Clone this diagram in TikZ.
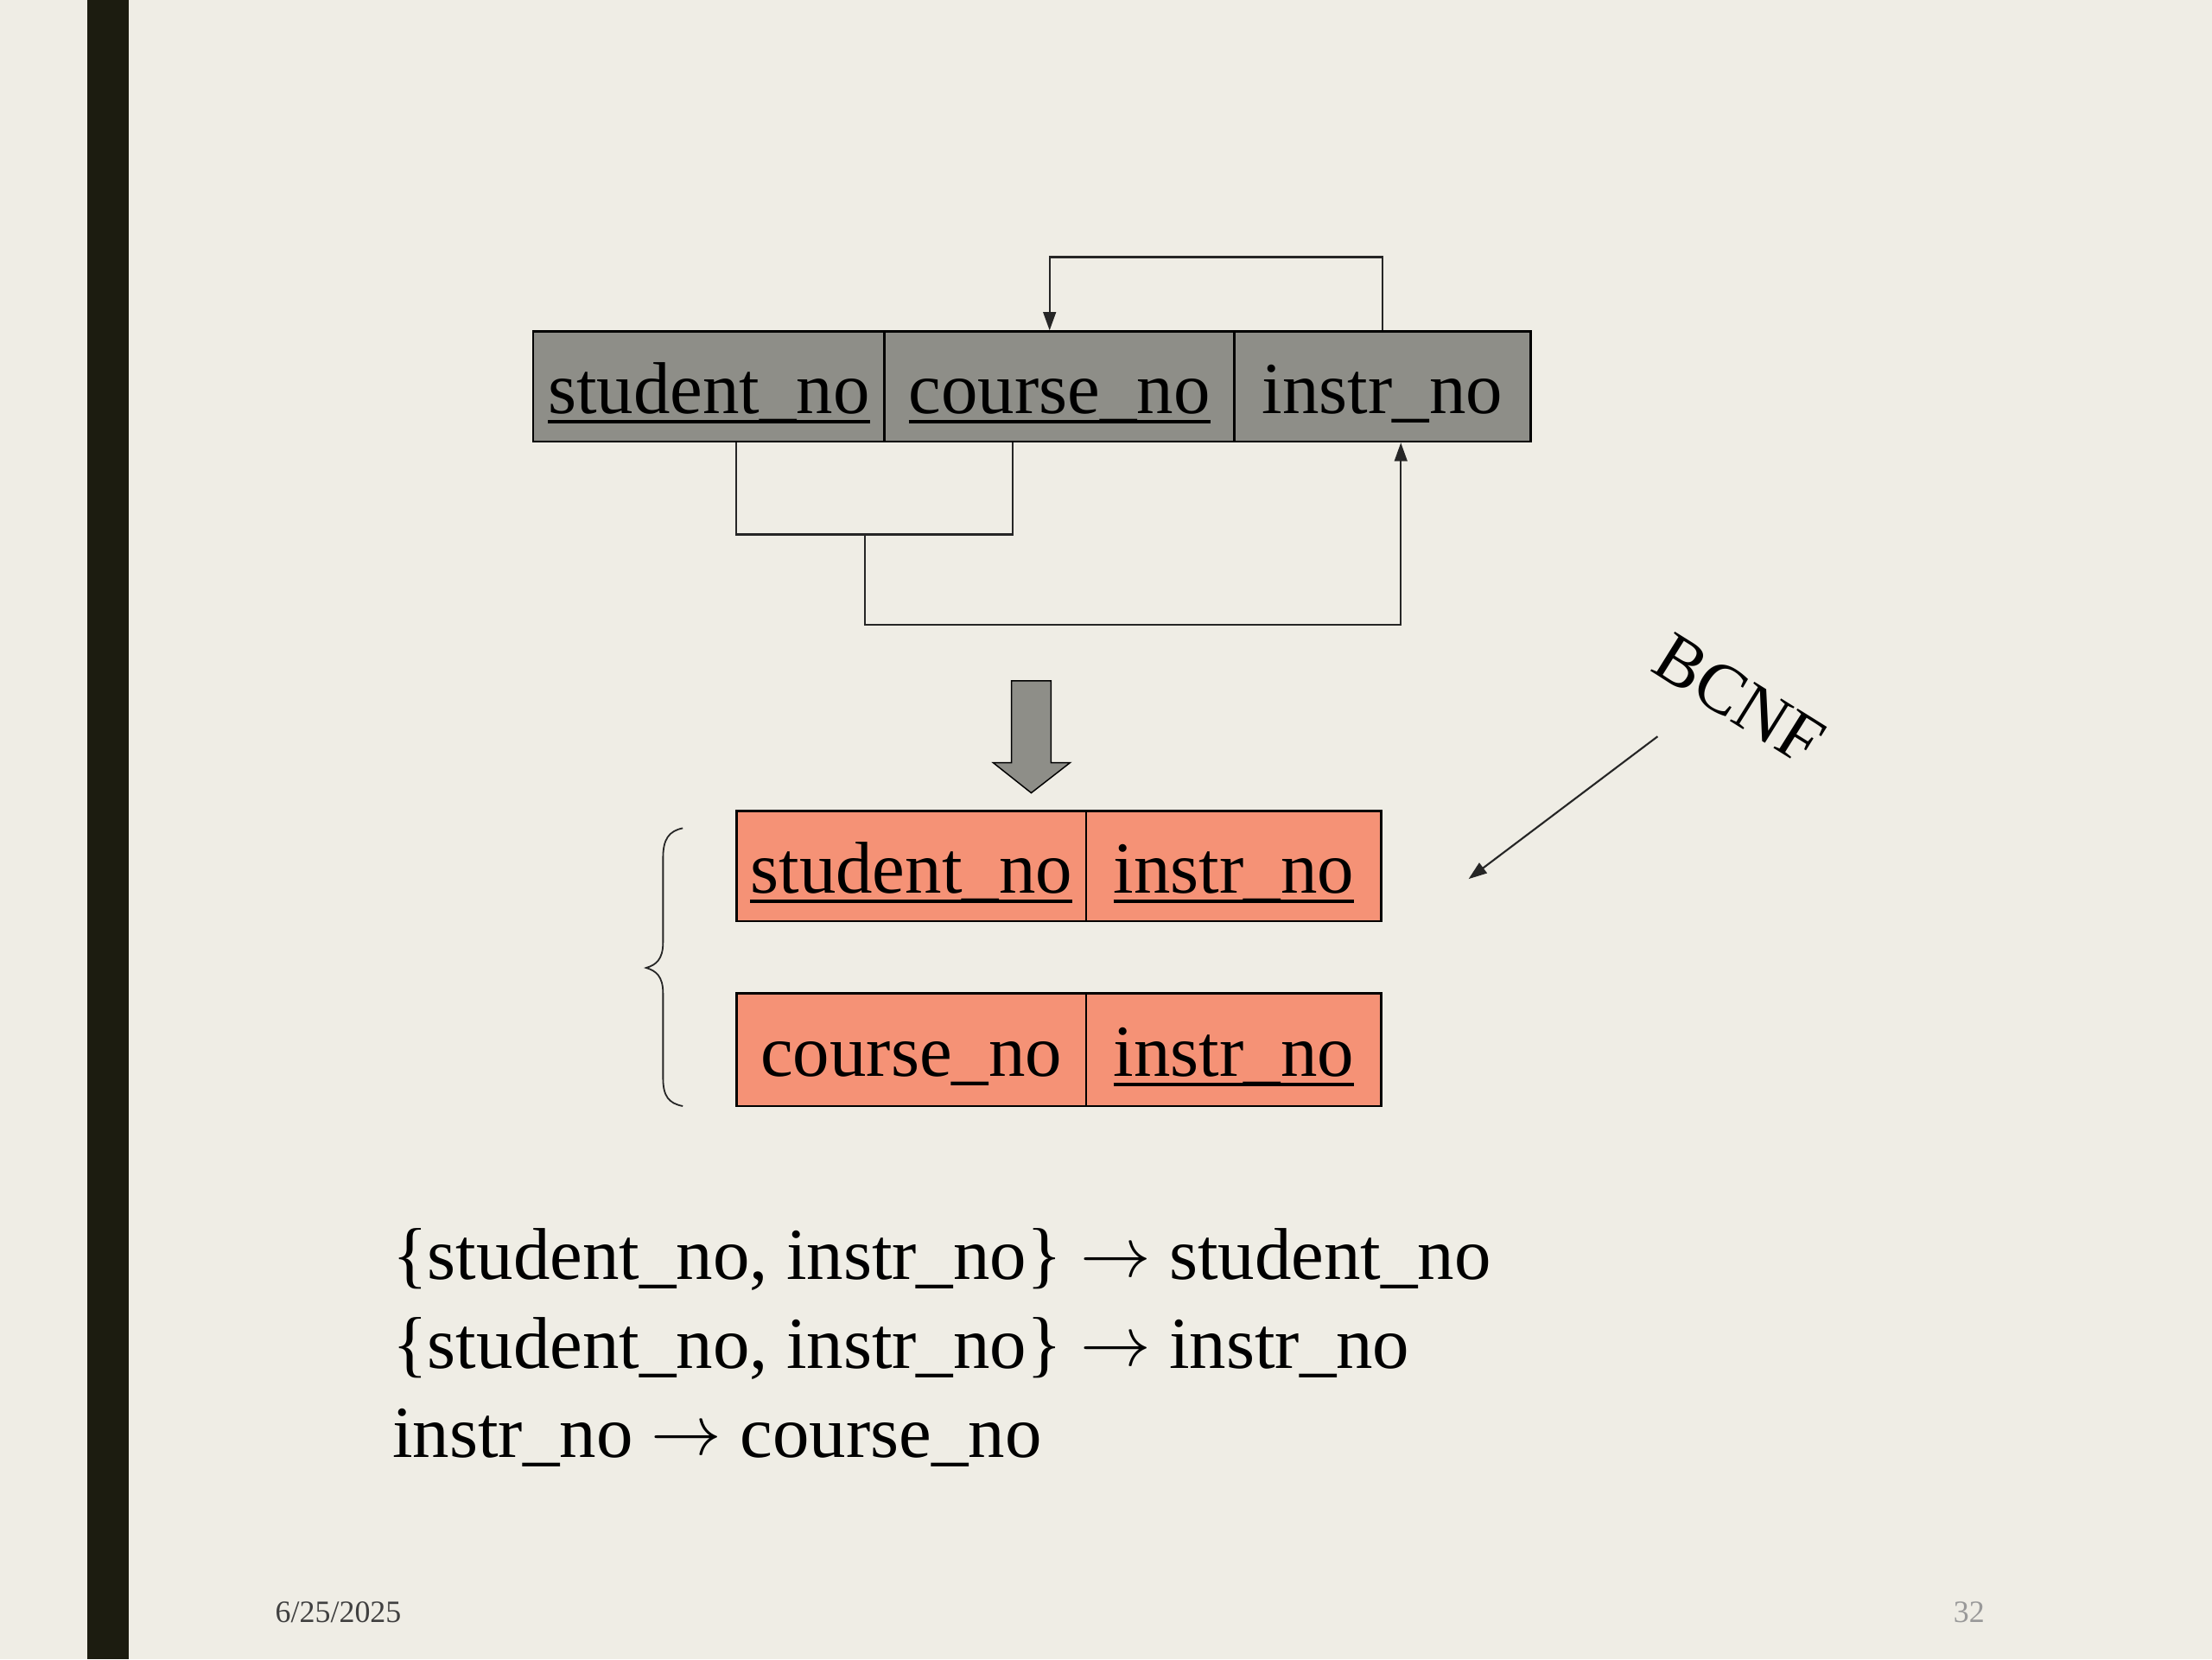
\documentclass[tikz,border=0pt]{standalone}
\usepackage{fontspec}
\setmainfont{Liberation Serif}
\usetikzlibrary{arrows.meta}
\definecolor{bgc}{RGB}{239,237,229}
\definecolor{barc}{RGB}{28,28,16}
\definecolor{grayc}{RGB}{142,142,136}
\definecolor{salc}{RGB}{245,146,118}
\newcommand\myul[1]{\setbox0\hbox{#1}\rlap{\rule[-0.135em]{\wd0}{0.048em}}\box0}
\newcommand\fdarrow{\raisebox{2pt}{\scalebox{5.0}{\normalsize$\rightarrow$}}}
\begin{document}
\begin{tikzpicture}[x=1pt,y=-1pt,
  cell/.style={draw=black, line width=1.6pt, inner sep=0pt, minimum height=78pt,
    text height=48pt, text depth=10pt, font=\fontsize{52}{60}\selectfont},
  gcell/.style={cell, fill=grayc},
  scell/.style={cell, fill=salc},
  conn/.style={line width=1.3pt, draw=black!85},
  tipend/.style={-{Triangle[length=13pt,width=9pt]}},
  fdtext/.style={anchor=base west, inner sep=0pt, font=\fontsize{52}{60}\selectfont},
  foot/.style={inner sep=0pt, font=\fontsize{22}{26}\selectfont},
]
\fill[bgc] (0,0) rectangle (1568,1176);
\useasboundingbox (0,0) rectangle (1568,1176);
\fill[barc] (62,0) rectangle (91,1176);

% top relation
\node[gcell, minimum width=249pt] (sn) at (502.5,274) {\myul{student\_no}};
\node[gcell, minimum width=248pt] (cn) at (751,274) {\myul{course\_no}};
\node[gcell, minimum width=210pt] (in) at (980,274) {instr\_no};

\draw[conn,tipend] (in.north) -- ++(0,-52) -| ([xshift=-7pt]cn.north);
\draw[conn] ([xshift=19.5pt]sn.south) -- ++(0,65) -| ([xshift=-33pt]cn.south);
\coordinate (j) at (613,378);
\draw[conn,tipend] (j) -- ++(0,65) -| ([xshift=13pt]in.south);

% big down arrow
\draw[fill=grayc, line width=0.9pt, line join=miter]
  (717,482.6) -- (745,482.6) -- (745,540.6) -- (758.5,540.6) -- (731,562)
  -- (704,540.6) -- (717,540.6) -- cycle;

% decomposed relations
\node[scell, minimum width=248pt] (s2) at (646,614) {\myul{student\_no}};
\node[scell, minimum width=209pt] (i2) at (874.5,614) {\myul{instr\_no}};
\node[scell, minimum width=248pt, minimum height=80pt] (c3) at (646,744) {course\_no};
\node[scell, minimum width=209pt, minimum height=80pt] (i3) at (874.5,744) {\myul{instr\_no}};

% brace
\draw[line width=1.1pt, draw=black!85] (484,587) .. controls (474,589) and (470,595) .. (470,608)
  -- (470,668) .. controls (470,680) and (465,684) .. (458,686)
  .. controls (465,688) and (470,692) .. (470,704)
  -- (470,764) .. controls (470,777) and (474,782) .. (484,784);

% BCNF
\node[rotate=-32, inner sep=0pt, font=\fontsize{50}{58}\selectfont] (bcnf) at (1233,496) {BCNF};
\coordinate (bs) at (1175,522);
\coordinate (be) at (1041,623);
\draw[conn,tipend] (bs) -- (be);

% functional dependencies
\node[fdtext] (fd1) at (278,907) {\{student\_no, instr\_no\} \fdarrow{} student\_no};
\node[fdtext] (fd2) at (278,970) {\{student\_no, instr\_no\} \fdarrow{} instr\_no};
\node[fdtext] (fd3) at (278,1033) {instr\_no \fdarrow{} course\_no};

% footer
\node[foot, anchor=base west, text=black!75] (date) at (195,1150) {6/25/2025};
\node[foot, anchor=base east, text=black!40] (pg) at (1407,1150) {32};
\end{tikzpicture}
\end{document}
